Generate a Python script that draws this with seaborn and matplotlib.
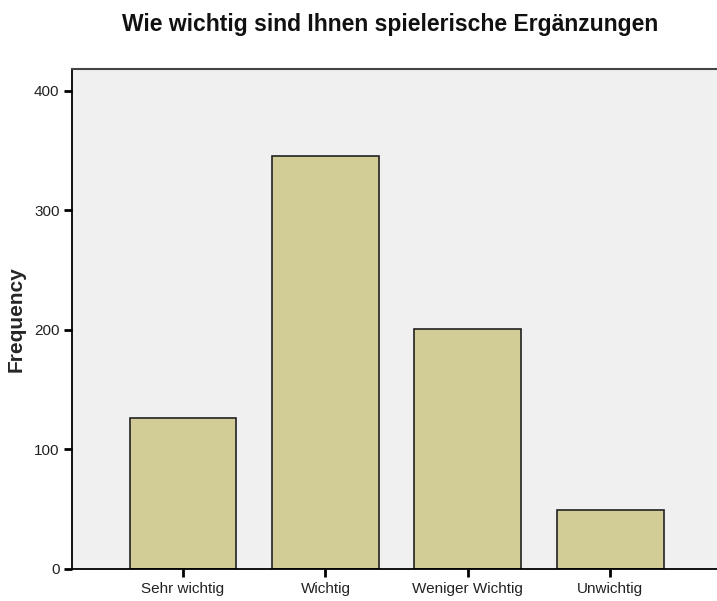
import matplotlib
matplotlib.use("Agg")
import matplotlib.pyplot as plt
import seaborn as sns
import pandas as pd

categories = ["Sehr wichtig", "Wichtig", "Weniger Wichtig", "Unwichtig"]
frequency = [126, 345, 201, 49]
yticks = [0, 100, 200, 300, 400]

sns.set_style("white")
plt.rcParams["font.family"] = ["Liberation Sans", "DejaVu Sans"]

df = pd.DataFrame({"cat": categories, "freq": frequency})

fig = plt.figure(figsize=(7.17, 6.01), dpi=100)
ax = fig.add_axes([72 / 717, 32 / 601, 645 / 717, 500 / 601])
ax.set_facecolor("#F0F0F0")

sns.barplot(data=df, x="cat", y="freq", color="#D2CD96", width=0.75,
            edgecolor="#222222", linewidth=1.2, saturation=1, ax=ax)

ax.set_xlim(-0.78, 3.75)
ax.set_ylim(0, 418)
ax.set_yticks(yticks)
ax.set_xlabel("")
ax.set_ylabel("Frequency", fontsize=15, fontweight="bold", labelpad=6)
ax.tick_params(axis="both", direction="out", length=6, width=2, color="black",
               labelsize=11, labelcolor="#222222", left=True, bottom=True, pad=3)
for side in ["left", "bottom"]:
    ax.spines[side].set_color("black")
    ax.spines[side].set_linewidth(1.3)
ax.spines["top"].set_color("#444444")
ax.spines["top"].set_linewidth(1.5)
ax.spines["right"].set_visible(False)

fig.text(390 / 717, 1 - 25 / 601, "Wie wichtig sind Ihnen spielerische Ergänzungen",
         ha="center", va="center", fontsize=16.5, fontweight="bold", color="#111111")

fig.savefig("out.png", dpi=100)
